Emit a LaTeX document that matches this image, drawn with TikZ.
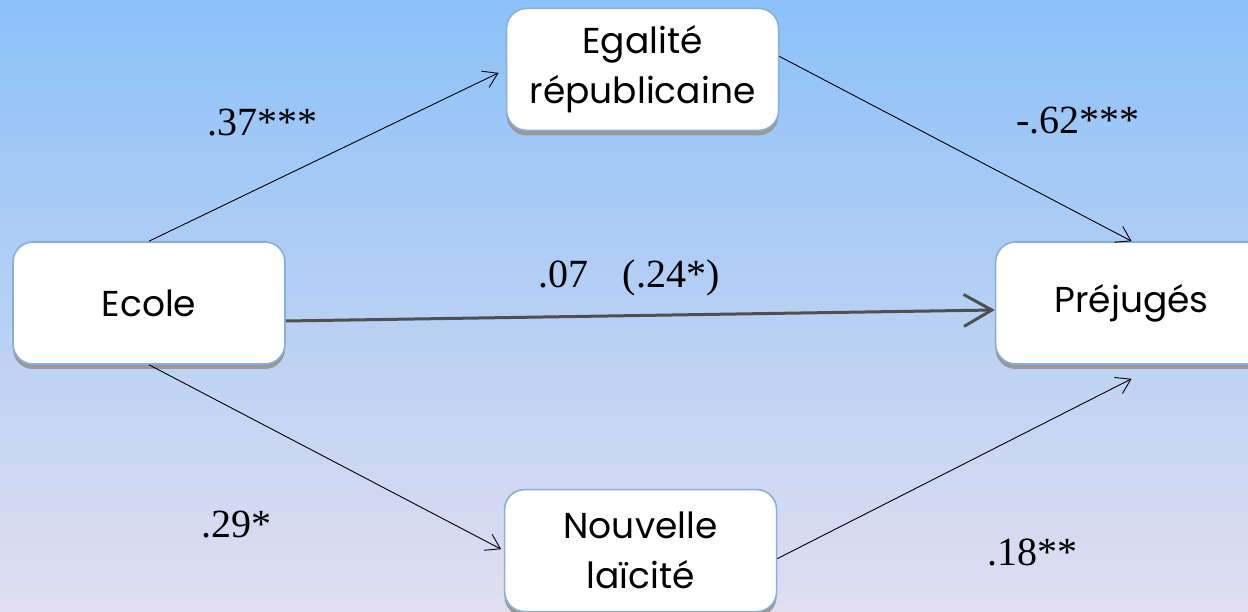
\documentclass[tikz,border=0pt]{standalone}
\usepackage{fontspec}
\setmainfont{Liberation Serif}
\newfontfamily\boxfont{Poppins}
\usetikzlibrary{positioning,shadows,arrows.meta}
\definecolor{cBgTop}{HTML}{8BC1F9}
\definecolor{cBgBot}{HTML}{E1DEF0}
\definecolor{cEdge}{HTML}{88AFD6}
\definecolor{cMid}{HTML}{505050}
\tikzset{mybox/.style={
  shape=rectangle,
  rounded corners=20pt,
  draw=cEdge,
  line width=1.6pt,
  fill=white,
  minimum width=272pt,
  minimum height=122pt,
  align=center,
  font=\boxfont\fontsize{36}{50}\selectfont,
  drop shadow={shadow xshift=0pt,shadow yshift=-5pt,fill=black!40,opacity=1},
  }
}
\tikzset{mycoef/.style={
  font=\fontsize{40}{44}\selectfont,
  text = black,
  }
}
\tikzset{mypath/.style={
  draw=black,
  line width=0.9pt,
  -{Straight Barb[length=14pt,width=18pt]},
  }
}

\begin{document}
\begin{tikzpicture}[x=1pt,y=1pt]
      \useasboundingbox (0,0) rectangle (1248,612);
      \fill [top color=cBgTop, bottom color=cBgBot] (0,0) rectangle (1248,612);

      \node [mybox] (e1) at (149,309) {Ecole};
      \node [mybox, above right=110pt and 220pt of e1] (m1) {Egalité\\républicaine};
      \node [mybox, below right=124pt and 218pt of e1] (m2) {Nouvelle\\laïcité};
      \node [mybox, right=709pt of e1] (p1) {Préjugés};

      \node [mycoef] (c1) at (262,489) {.37***};
      \node [mycoef] (c2) at (1078,491) {-.62***};
      \node [mycoef] (c3) at (629,334) {.07\hspace{34pt}(.24*)};
      \node [mycoef] (c4) at (236,87) {.29*};
      \node [mycoef] (c5) at (1032,60) {.18**};

      \draw [mypath, shorten >=8pt] (e1.north) -- (m1.west);
      \draw [mypath] ([yshift=13pt]m1.east) -- (p1.north);
      \draw [mypath, draw=cMid, line width=3pt, -{Straight Barb[length=28pt,width=32pt]}]
        ([yshift=-18pt]e1.east) -- ([yshift=-7pt]p1.west);
      \draw [mypath, shorten >=3pt] (e1.south) -- (m2.west);
      \draw [mypath] ([yshift=-8pt]m2.east) -- ([yshift=-14pt]p1.south);
\end{tikzpicture}
\end{document}
